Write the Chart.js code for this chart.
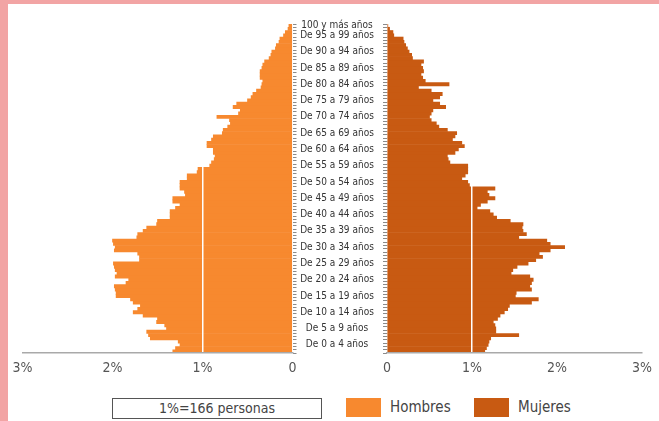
<!DOCTYPE html>
<html>
<head>
<meta charset="utf-8">
<script src="https://cdn.jsdelivr.net/npm/chart.js@4.4.1/dist/chart.umd.min.js"></script>
<style>
  html, body { margin: 0; padding: 0; }
  body { width: 659px; height: 421px; background: #f2a4a4; position: relative; overflow: hidden;
         font-family: 'Liberation Sans Narrow', 'DejaVu Sans Condensed', 'Liberation Sans', sans-serif; }
  #page { position: absolute; left: 8px; top: 4px; right: 0; bottom: 0; background: #fff; }
  canvas { position: absolute; top: 0; }
  #cL { left: 0; }
  #cR { left: 376px; }
  .lg { position: absolute; top: 398px; height: 19px; line-height: 19px; color: #444; }
  #note { left: 112px; width: 208px; border: 1px solid #555; text-align: center; font-size: 14px; background: #fff; }
  .sw { position: absolute; top: 398px; width: 35px; height: 19px; }
  #swM { left: 346px; background: #f7892f; }
  #swW { left: 474px; background: #c85a12; }
  #tM { left: 390px; font-size: 15px; }
  #tW { left: 518px; font-size: 15px; }
</style>
</head>
<body>
<div id="page"></div>
<canvas id="cL" width="382" height="385"></canvas>
<canvas id="cR" width="283" height="385"></canvas>
<div id="note" class="lg">1%=166 personas</div>
<div id="swM" class="sw"></div><div id="tM" class="lg">Hombres</div>
<div id="swW" class="sw"></div><div id="tW" class="lg">Mujeres</div>
<script>
// ---- data (percent of total population, by single year of age 0..100+) ----
const ages = ['0','1','2','3','4','5','6','7','8','9','10','11','12','13','14','15','16','17','18','19',
  '20','21','22','23','24','25','26','27','28','29','30','31','32','33','34','35','36','37','38','39',
  '40','41','42','43','44','45','46','47','48','49','50','51','52','53','54','55','56','57','58','59',
  '60','61','62','63','64','65','66','67','68','69','70','71','72','73','74','75','76','77','78','79',
  '80','81','82','83','84','85','86','87','88','89','90','91','92','93','94','95','96','97','98','99','100'];

const groupLabels = ['De 0 a 4 años','De 5 a 9 años','De 10 a 14 años','De 15 a 19 años','De 20 a 24 años',
  'De 25 a 29 años','De 30 a 34 años','De 35 a 39 años','De 40 a 44 años','De 45 a 49 años',
  'De 50 a 54 años','De 55 a 59 años','De 60 a 64 años','De 65 a 69 años','De 70 a 74 años',
  'De 75 a 79 años','De 80 a 84 años','De 85 a 89 años','De 90 a 94 años','De 95 a 99 años','100 y más años'];

const hombres = [1.33,1.30,1.25,1.27,1.58,1.60,1.62,1.40,1.42,1.51,
  1.50,1.66,1.77,1.72,1.69,1.77,1.80,1.96,1.96,1.97,
  1.98,1.85,1.82,1.97,1.95,1.97,1.98,1.99,1.70,1.70,
  1.72,1.98,1.97,1.99,2.00,1.73,1.72,1.66,1.62,1.51,
  1.50,1.36,1.36,1.36,1.30,1.25,1.33,1.33,1.19,1.20,
  1.25,1.25,1.25,1.17,1.17,1.06,1.05,0.92,0.90,0.87,
  0.86,0.88,0.88,0.95,0.95,0.90,0.88,0.78,0.77,0.72,
  0.69,0.70,0.84,0.60,0.58,0.66,0.62,0.50,0.46,0.44,
  0.40,0.35,0.34,0.33,0.36,0.36,0.36,0.34,0.33,0.31,
  0.26,0.24,0.23,0.19,0.18,0.15,0.14,0.10,0.08,0.05,0.04];

const mujeres = [1.15,1.17,1.19,1.20,1.22,1.55,1.28,1.28,1.27,1.25,
  1.30,1.33,1.38,1.42,1.44,1.70,1.78,1.51,1.52,1.70,
  1.68,1.70,1.72,1.68,1.46,1.48,1.53,1.66,1.75,1.83,
  1.79,1.92,2.09,1.92,1.88,1.55,1.64,1.60,1.59,1.60,
  1.45,1.29,1.25,1.21,1.06,1.10,1.18,1.27,1.20,1.18,
  1.27,0.97,0.95,0.88,0.92,0.95,0.95,0.95,0.74,0.72,
  0.71,0.80,0.84,0.91,0.88,0.77,0.80,0.82,0.71,0.61,
  0.58,0.52,0.50,0.52,0.54,0.69,0.62,0.54,0.62,0.65,
  0.52,0.37,0.73,0.45,0.42,0.40,0.43,0.42,0.40,0.43,
  0.30,0.29,0.26,0.24,0.22,0.20,0.19,0.08,0.07,0.03,0.01];

const xTicks = ['0','1%','2%','3%'];

// ---- styling ----
const FONT = "'Liberation Sans Narrow', 'DejaVu Sans Condensed', 'Liberation Sans', sans-serif";
const C_MEN = '#f7892f';
const C_WOMEN = '#c85a12';
const LABEL_SIZE = 10;

// center the age-group labels in the middle column
const mctx = document.createElement('canvas').getContext('2d');
mctx.font = LABEL_SIZE + 'px ' + FONT;
const widest = Math.max(...groupLabels.map(s => mctx.measureText(s).width));
const yPad = Math.max(0, 40.5 - widest / 2);

function groupLabel(idx) {
  if (idx === ages.length - 1) return groupLabels[groupLabels.length - 1];
  if (idx % 5 === 2) return groupLabels[(idx - 2) / 5];
  return '';
}

function xAxis(reverse) {
  return {
    type: 'linear', min: 0, max: 3, reverse: reverse,
    ticks: { stepSize: 1, color: '#555', padding: 7, font: { family: FONT, size: 14 },
             callback: (v) => xTicks[v] },
    grid: { z: 1, drawTicks: false, lineWidth: 1.5,
            color: (c) => (c.tick && c.tick.value === 1) ? '#ffffff' : 'rgba(0,0,0,0)' },
    border: { display: true, z: 2, color: '#a9a9a9', width: 1.5 },
    afterFit: (s) => { s.height = 32; }
  };
}

const common = {
  responsive: false, animation: false, devicePixelRatio: 1, indexAxis: 'y',
  plugins: { legend: { display: false }, tooltip: { enabled: false } }
};

new Chart(document.getElementById('cL'), {
  type: 'bar',
  data: { labels: ages, datasets: [{ label: 'Hombres', data: hombres, backgroundColor: C_MEN,
          borderWidth: 0, barPercentage: 1, categoryPercentage: 1 }] },
  options: Object.assign({}, common, {
    layout: { padding: { left: 22.5, right: 0, top: 24, bottom: 0 } },
    scales: {
      x: xAxis(true),
      y: {
        position: 'right', reverse: true,
        ticks: { autoSkip: false, crossAlign: 'center', padding: yPad, color: '#333',
                 font: { family: FONT, size: LABEL_SIZE },
                 callback: (v, idx) => groupLabel(idx) },
        grid: { drawOnChartArea: false, tickLength: 4, color: '#8a8a8a', lineWidth: 1 },
        border: { display: false },
        afterFit: (s) => { s.width = 89.5; }
      }
    }
  })
});

new Chart(document.getElementById('cR'), {
  type: 'bar',
  data: { labels: ages, datasets: [{ label: 'Mujeres', data: mujeres, backgroundColor: C_WOMEN,
          borderWidth: 0, barPercentage: 1, categoryPercentage: 1 }] },
  options: Object.assign({}, common, {
    layout: { padding: { left: 0, right: 9, top: 24, bottom: 0 } },
    scales: {
      x: xAxis(false),
      y: {
        position: 'left', reverse: true,
        ticks: { display: false, autoSkip: false },
        grid: { drawOnChartArea: false, tickLength: 4, color: '#8a8a8a', lineWidth: 1 },
        border: { display: false },
        afterFit: (s) => { s.width = 6; }
      }
    }
  })
});
</script>
</body>
</html>
